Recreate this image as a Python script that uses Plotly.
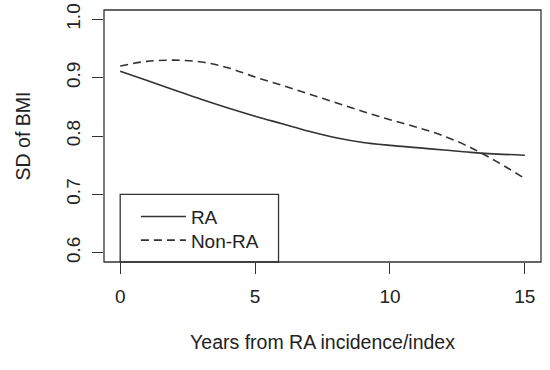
import plotly.graph_objects as go

years = list(range(0, 16))
sd_ra = [0.911, 0.895, 0.879, 0.863, 0.848, 0.834, 0.821, 0.808, 0.797, 0.789,
         0.784, 0.780, 0.776, 0.772, 0.769, 0.767]
sd_nonra = [0.920, 0.928, 0.930, 0.927, 0.917, 0.901, 0.887, 0.872, 0.857, 0.842,
            0.828, 0.815, 0.800, 0.780, 0.755, 0.727]
x_ticks = [0, 5, 10, 15]
y_ticks = [0.6, 0.7, 0.8, 0.9, 1.0]
y_tick_labels = ["0.6", "0.7", "0.8", "0.9", "1.0"]

INK = "#333333"
TXT = "#222222"
FONT = "Liberation Sans, Arial, sans-serif"

W, H = 550, 370
ML, MR, MT, MB = 104, 9, 10, 108
plot_h = H - MT - MB

fig = go.Figure()
fig.add_trace(go.Scatter(x=years, y=sd_ra, mode="lines", name="RA", legend="legend",
                         line=dict(color=INK, width=1.6, shape="spline")))
fig.add_trace(go.Scatter(x=years, y=sd_nonra, mode="lines", name="Non-RA", legend="legend2",
                         line=dict(color=INK, width=1.6, shape="spline", dash="8px,5px")))

leg_common = dict(xanchor="left", yanchor="middle", bgcolor="rgba(0,0,0,0)",
                  borderwidth=0, itemwidth=45, font=dict(size=19, color=TXT))
fig.update_layout(
    width=W, height=H,
    margin=dict(l=ML, r=MR, t=MT, b=MB, autoexpand=False),
    paper_bgcolor="white", plot_bgcolor="white",
    font=dict(family=FONT, size=19, color=TXT),
    showlegend=True,
    legend=dict(x=0.073, y=1 - (216.7 - MT) / plot_h, **leg_common),
    legend2=dict(x=0.073, y=1 - (240.3 - MT) / plot_h, **leg_common),
    xaxis=dict(range=[-0.6, 15.6], tickvals=x_ticks, ticks="outside", ticklen=11,
               tickcolor=INK, tickwidth=1, showgrid=False, zeroline=False,
               showline=False, ticklabelstandoff=6,
               title=dict(text="Years from RA incidence/index", standoff=29,
                          font=dict(size=19.5, color=TXT))),
    yaxis=dict(range=[0.584, 1.016], tickvals=y_ticks, ticktext=y_tick_labels,
               tickangle=-90, ticks="outside", ticklen=11, tickcolor=INK,
               tickwidth=1, showgrid=False, zeroline=False, showline=False,
               ticklabelstandoff=4,
               title=dict(text="SD of BMI", standoff=27,
                          font=dict(size=19.5, color=TXT))),
)

# plot frame (R box())
fig.add_shape(type="rect", xref="paper", yref="paper", x0=0, x1=1, y0=0, y1=1,
              line=dict(color=INK, width=1.3), fillcolor="rgba(0,0,0,0)", layer="above")
# legend frame
fig.add_shape(type="rect", xref="x", yref="paper", x0=0, x1=5.87, y0=0,
              y1=(0.7 - 0.584) / (1.016 - 0.584),
              line=dict(color=INK, width=1.3), fillcolor="white", layer="below")

fig.write_html("out.html", config={"displayModeBar": False},
               post_script="document.body.style.margin='0';")
